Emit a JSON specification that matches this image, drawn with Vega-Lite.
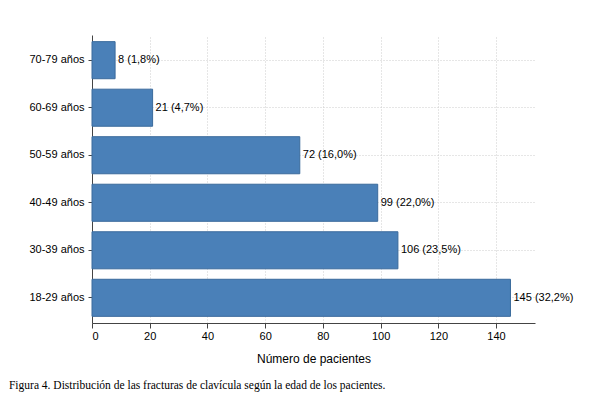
{
"$schema":"https://vega.github.io/schema/vega-lite/v6.json",
"autosize":"none",
"width":443,"height":288,
"padding":{"left":92,"top":35,"right":70,"bottom":80},
"background":"white",
"title":{"text":"Figura 4. Distribución de las fracturas de clavícula según la edad de los pacientes.","orient":"bottom","anchor":"start","dx":-20,"offset":16,"font":"Liberation Serif","fontSize":11.5,"fontWeight":"normal","color":"#000"},
"data":{"values":[
{"edad":"70-79 años","n":8,"label":"8 (1,8%)"},
{"edad":"60-69 años","n":21,"label":"21 (4,7%)"},
{"edad":"50-59 años","n":72,"label":"72 (16,0%)"},
{"edad":"40-49 años","n":99,"label":"99 (22,0%)"},
{"edad":"30-39 años","n":106,"label":"106 (23,5%)"},
{"edad":"18-29 años","n":145,"label":"145 (32,2%)"}
]},
"encoding":{
"y":{"field":"edad","type":"nominal","sort":null,"scale":{"paddingInner":0.22,"paddingOuter":0.14},"axis":{"title":null,"labelFont":"Liberation Sans","labelFontSize":11,"labelColor":"#000","labelPadding":4,"tickSize":4,"domainColor":"#444","tickColor":"#444","grid":true,"gridDash":[1,2],"gridColor":"#ccc","bandPosition":0.5}},
"x":{"field":"n","type":"quantitative","scale":{"domain":[0,153.5],"nice":false},"axis":{"values":[0,20,40,60,80,100,120,140],"title":"Número de pacientes","titleFont":"Liberation Sans","titleFontSize":12,"titleFontWeight":"normal","titleColor":"#000","titlePadding":12,"labelFont":"Liberation Sans","labelFontSize":11,"labelColor":"#000","tickSize":5,"domainColor":"#444","tickColor":"#444","gridDash":[1,2],"gridColor":"#ccc"}}
},
"layer":[
{"mark":{"type":"bar","color":"#4a80b8","stroke":"#3a6a9c","strokeWidth":1}},
{"mark":{"type":"text","align":"left","dx":3,"font":"Liberation Sans","fontSize":11,"color":"#000"},"encoding":{"text":{"field":"label"}}}
],
"config":{"view":{"stroke":null}}
}
